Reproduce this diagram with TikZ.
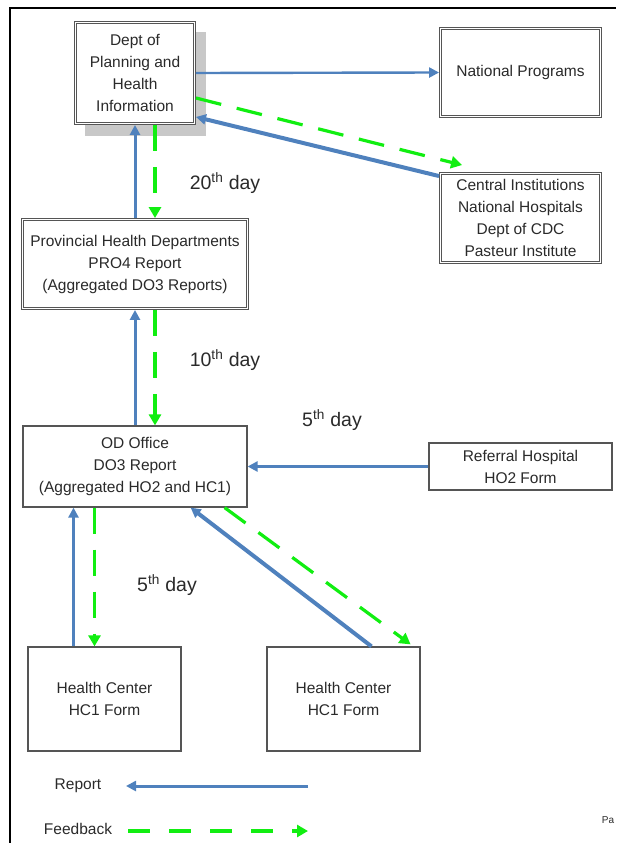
\documentclass[tikz,border=0pt]{standalone}
\usepackage{fontspec}
\setmainfont{Liberation Sans}
\usepackage{xcolor}
\usetikzlibrary{arrows.meta}
\usetikzlibrary{positioning}
\usetikzlibrary{shadows}

\definecolor{reportblue}{HTML}{4F81BD}
\definecolor{feedgreen}{HTML}{11EE11}
\definecolor{boxgray}{HTML}{555555}
\definecolor{shadowgray}{HTML}{C8C8C8}
\definecolor{textgray}{HTML}{2A2A2A}

\begin{document}
\begin{tikzpicture}[
		x=1pt,
		y=-1pt,
		font=\fontsize{15.5pt}{22pt}\selectfont,
		text=textgray,
		>=Triangle,
	]
		\tikzset{unitbox/.style={
			draw=boxgray,
			line width=0.9pt,
			fill=white,
			rectangle,
			align=center,
			inner sep=0pt,
			path picture={
				\draw[boxgray,line width=0.9pt]
					([xshift=2.2pt,yshift=-2.2pt]path picture bounding box.north west)
					rectangle ([xshift=-2.2pt,yshift=2.2pt]path picture bounding box.south east);
			},
		}}
		\tikzset{unitboxs/.style={
			draw=boxgray,
			line width=1.2pt,
			fill=white,
			rectangle,
			align=center,
			inner sep=0pt,
		}}
		\tikzset{reportline/.style={
			draw=reportblue,
			line width=3pt,
			-{Triangle[length=10pt,width=10pt]},
		}}
		\tikzset{reportthick/.style={
			reportline,
			line width=4pt,
		}}
		\tikzset{feedbackline/.style={
			draw=feedgreen,
			line width=3.2pt,
			dash pattern=on 26pt off 16pt,
			-{Triangle[length=11pt,width=12pt]},
		}}
		\tikzset{daylabel/.style={
			font=\fontsize{19.5pt}{22pt}\selectfont,
		}}

		\useasboundingbox (0,0) rectangle (616,843);
		\draw[line width=2pt] (10,843) -- (10,8) -- (616,8);

		%---------------------------------
		% National level
		\node[
			unitbox,
			minimum width=121pt,
			minimum height=103pt,
			drop shadow={shadow xshift=10pt,shadow yshift=-11pt,opacity=1,fill=shadowgray},
		] (dept) at (135,73) {Dept of\\Planning and\\Health\\Information};
		\node[
			unitbox,
			minimum width=162pt,
			minimum height=90pt,
		] (natprog) at (520.5,72.5) {National Programs};
		\node[
			unitbox,
			minimum width=162pt,
			minimum height=91pt,
		] (central) at (520.5,218) {Central Institutions\\National Hospitals\\Dept of CDC\\Pasteur Institute};

		\draw[reportline,line width=2.4pt] (dept.east) -- (natprog.west);
		\draw[feedbackline] ([yshift=-25pt]dept.east) -- ([xshift=23pt,yshift=7pt]central.north west);
		\draw[reportthick] ([yshift=-4pt]central.north west) -- ([yshift=8pt]dept.south east);

		%---------------------------------
		% Province
		\node[
			unitbox,
			minimum width=227pt,
			minimum height=91pt,
		] (prov) at (135,264) {Provincial Health Departments\\PRO4 Report\\(Aggregated DO3 Reports)};

		\draw[reportline] (prov.north) -- (dept.south);
		\draw[feedbackline] ([xshift=20pt]dept.south) -- ([xshift=20pt]prov.north);
		\node[daylabel] (day20) at (225,183) {20\textsuperscript{th} day};

		%---------------------------------
		% Operational district
		\node[
			unitboxs,
			minimum width=224pt,
			minimum height=81pt,
		] (odoff) at (135,466.5) {OD Office\\DO3 Report\\(Aggregated HO2 and HC1)};
		\node[
			unitboxs,
			minimum width=183pt,
			minimum height=47pt,
		] (referral) at (520.5,466.5) {Referral Hospital\\HO2 Form};

		\draw[reportline] (odoff.north) -- (prov.south);
		\draw[feedbackline] ([xshift=20pt]prov.south) -- ([xshift=20pt]odoff.north);
		\draw[reportline] (referral.west) -- (odoff.east);
		\node[daylabel] (day10) at (225,360) {10\textsuperscript{th} day};
		\node[daylabel] (day5a) at (332,420) {5\textsuperscript{th} day};

		%---------------------------------
		% Health centers
		\node[
			unitboxs,
			minimum width=153pt,
			minimum height=104pt,
		] (hcA) at (104.5,699) {Health Center\\HC1 Form};
		\node[
			unitboxs,
			minimum width=153pt,
			minimum height=104pt,
		] (hcB) at (343.5,699) {Health Center\\HC1 Form};

		\draw[reportline] ([xshift=-31pt]hcA.north) -- ([xshift=-31pt]hcA.north |- odoff.south);
		\draw[feedbackline] ([xshift=-10pt]hcA.north |- odoff.south) -- ([xshift=-10pt]hcA.north);
		\draw[reportthick] ([xshift=28pt]hcB.north) -- ([xshift=-57pt]odoff.south east);
		\draw[feedbackline] ([xshift=-23pt]odoff.south east) -- ([xshift=-10pt,yshift=2pt]hcB.north east);
		\node[daylabel] (day5b) at (167,585) {5\textsuperscript{th} day};

		%---------------------------------
		% Legend
		\node (reptxt) at (78,786) {Report};
		\coordinate (repa) at (308,786);
		\coordinate (repb) at (126,786);
		\draw[reportline] (repa) -- (repb);

		\node (feedtxt) at (78,829) {Feedback};
		\coordinate (feeda) at (128,831);
		\coordinate (feedb) at (308,831);
		\draw[feedbackline,dash pattern=on 22pt off 19pt] (feeda) -- (feedb);

		\node[font=\fontsize{10pt}{12pt}\selectfont] (pagetxt) at (608,820) {Pa};
	\end{tikzpicture}
\end{document}
